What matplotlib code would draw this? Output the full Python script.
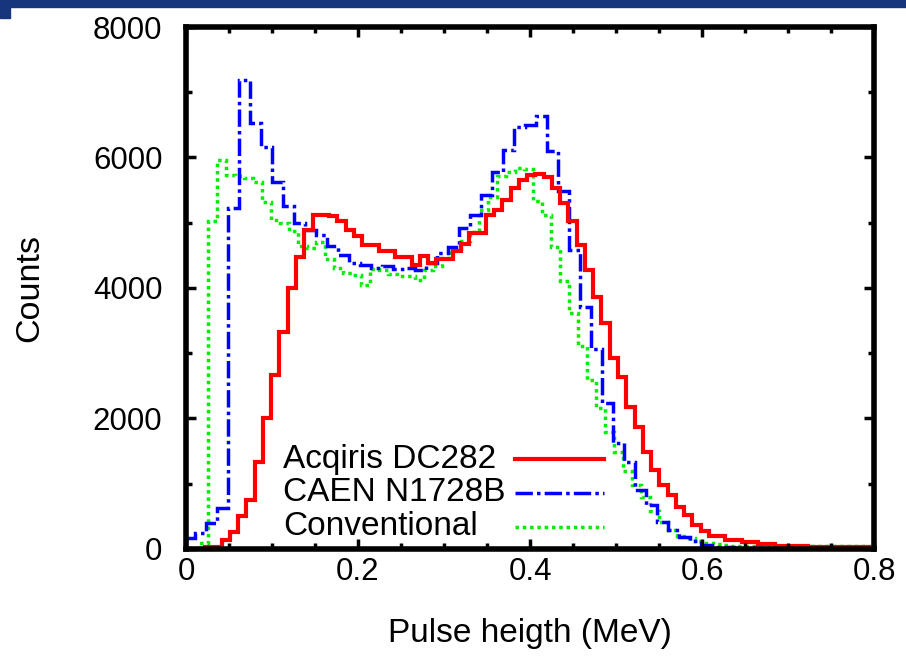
import numpy as np
import matplotlib.pyplot as plt
from matplotlib.patches import Rectangle
from matplotlib.ticker import MultipleLocator

plt.rcParams['font.family'] = ['Liberation Sans', 'DejaVu Sans']

# Acqiris DC282 histogram (bin start, bin width, counts per bin)
acq_lo, acq_w = 0.0031, 0.0096
acq_counts = [0, 0, 35, 35, 140, 260, 500, 750, 1340, 2000,
              2670, 3330, 4000, 4480, 4890, 5120, 5120, 5100, 5020, 4890,
              4790, 4660, 4660, 4560, 4560, 4480, 4470, 4350, 4490, 4380,
              4440, 4440, 4560, 4680, 4840, 4840, 5120, 5200, 5350, 5530,
              5650, 5730, 5740, 5700, 5530, 5300, 5020, 4660, 4280, 3860,
              3460, 2920, 2640, 2180, 1870, 1490, 1210, 980, 830, 650,
              520, 370, 270, 200, 200, 140, 140, 100, 100, 70,
              70, 50, 45, 40, 40, 35, 35, 30, 30, 30,
              25, 25, 25]

# CAEN N1728B histogram
caen_lo, caen_w = -0.0023, 0.0128
caen_counts = [170, 250, 400, 630, 5230, 7190, 6530, 6160, 5630, 5250,
               4990, 4890, 4810, 4640, 4500, 4390, 4350, 4300, 4340, 4290,
               4300, 4280, 4380, 4530, 4630, 4920, 5120, 5420, 5780, 6115,
               6460, 6500, 6630, 6100, 5480, 4580, 3710, 3060, 2240, 1630,
               1330, 900, 670, 420, 290, 190, 130, 60, 35, 25,
               20, 15, 12, 10, 10, 10, 8, 8, 8, 6,
               6, 5, 5, 5]

# Conventional histogram
conv_lo, conv_w = 0.0042, 0.0105
conv_counts = [10, 90, 5020, 5960, 5730, 5720, 5690, 5630, 5320, 5040,
               4990, 4870, 4650, 4610, 4710, 4450, 4300, 4230, 4200, 4050,
               4290, 4280, 4210, 4190, 4190, 4120, 4270, 4330, 4460, 4600,
               4720, 4860, 5200, 5400, 5710, 5780, 5840, 5830, 5330, 5120,
               4630, 4100, 3610, 3110, 2590, 2160, 1790, 1480, 1190, 980,
               800, 580, 420, 290, 200, 170, 130, 90, 70, 60,
               50, 45, 45, 45, 45, 40, 45, 40, 40, 45,
               40, 40, 45, 40, 40, 40, 40]

labels = ['Acqiris DC282', 'CAEN N1728B', 'Conventional']

fig = plt.figure(figsize=(9.06, 6.57), dpi=100)
ax = fig.add_axes([0.2053, 0.1644, 0.7594, 0.7945])

# slide header bar
fig.patches.append(Rectangle((0, 0.990), 1, 0.010, transform=fig.transFigure,
                             color='#17357a', zorder=5))
fig.patches.append(Rectangle((0, 0.972), 0.011, 0.022, transform=fig.transFigure,
                             color='#17357a', zorder=5))

series = [
    (acq_lo, acq_w, acq_counts, dict(color='#ff0000', lw=3.0, linestyle='-')),
    (caen_lo, caen_w, caen_counts, dict(color='#0000ff', lw=2.5, linestyle=(0, (5, 1.2, 1, 1.2)))),
    (conv_lo, conv_w, conv_counts, dict(color='#00ee00', lw=2.5, linestyle=(0, (1, 1.1)))),
]
for lo, w, counts, style in series[::-1]:
    edges = lo + w * np.arange(len(counts) + 1)
    ax.stairs(counts, edges, baseline=None, **style)

ax.set_xlim(0, 0.8)
ax.set_ylim(0, 8000)
ax.xaxis.set_major_locator(MultipleLocator(0.2))
ax.xaxis.set_minor_locator(MultipleLocator(0.05))
ax.yaxis.set_major_locator(MultipleLocator(2000))
ax.yaxis.set_minor_locator(MultipleLocator(1000))
ax.set_xticks([0, 0.2, 0.4, 0.6, 0.8])
ax.set_xticklabels(['0', '0.2', '0.4', '0.6', '0.8'])
ax.tick_params(which='both', direction='in', top=True, right=True, labelsize=22.5,
               width=2.5)
ax.tick_params(which='major', length=7)
ax.tick_params(which='minor', length=4)
ax.tick_params(axis='y', pad=17)
ax.tick_params(axis='x', pad=6)
for sp in ax.spines.values():
    sp.set_linewidth(4.0)

ax.set_xlabel('Pulse heigth (MeV)', fontsize=24, labelpad=22)
ax.set_ylabel('Counts', fontsize=24.5, labelpad=34)

# gnuplot-style key: text left, sample line right
for i, (lab, (_, _, _, style)) in enumerate(zip(labels, series)):
    yk = 0.172 - i * 0.0645
    ax.text(0.141, yk, lab, transform=ax.transAxes, fontsize=24,
            ha='left', va='center')
    ax.plot([0.478, 0.608], [yk, yk], transform=ax.transAxes, **style)

fig.savefig('out.png', dpi=100)
